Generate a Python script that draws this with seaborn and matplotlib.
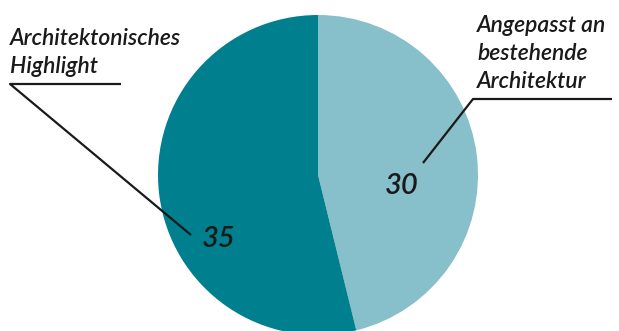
import matplotlib
matplotlib.use("Agg")
import matplotlib.pyplot as plt
import seaborn as sns

# Share of answers
categories = [["Angepasst an", "bestehende", "Architektur"],
              ["Architektonisches", "Highlight"]]
values = [30, 35]
colors = ["#87BFCA", "#00808F"]

sns.set_theme(style="white")
plt.rcParams["font.family"] = ["Lato", "DejaVu Sans"]

W, H = 619, 331
fig = plt.figure(figsize=(W / 100, H / 100), dpi=100)
ax = fig.add_axes([0, 0, 1, 1])

# pie centre and radius in pixel units (y grows downwards, so wedge order is mirrored)
cx, cy, r = 318, 175, 160
ax.pie(values, colors=colors, startangle=-90, counterclock=True,
       center=(cx, cy), radius=r, frame=True,
       wedgeprops=dict(linewidth=0))
ax.set_xlim(0, W)
ax.set_ylim(H, 0)
ax.set_aspect("equal")
ax.axis("off")

ink = "#1a1a1a"
txt = dict(color=ink, fontstyle="italic", fontweight="semibold")
line_gap = 28


def label_block(x, y0, lines):
    for i, s in enumerate(lines):
        ax.text(x, y0 + i * line_gap, s, fontsize=16.5, ha="left",
                va="baseline", **txt)


# right label with leader line
label_block(477, 32, categories[0])
ax.plot([612, 473, 423], [99, 99, 163], color=ink, lw=1.6,
        solid_capstyle="butt")
ax.text(402, 186, f"{values[0]}", fontsize=21, ha="center", va="center", **txt)

# left label with leader line
label_block(10, 45, categories[1])
ax.plot([121, 10, 191], [84, 84, 235], color=ink, lw=1.6,
        solid_capstyle="butt")
ax.text(219, 239, f"{values[1]}", fontsize=21, ha="center", va="center", **txt)

fig.savefig("out.png", dpi=100, facecolor="white")
